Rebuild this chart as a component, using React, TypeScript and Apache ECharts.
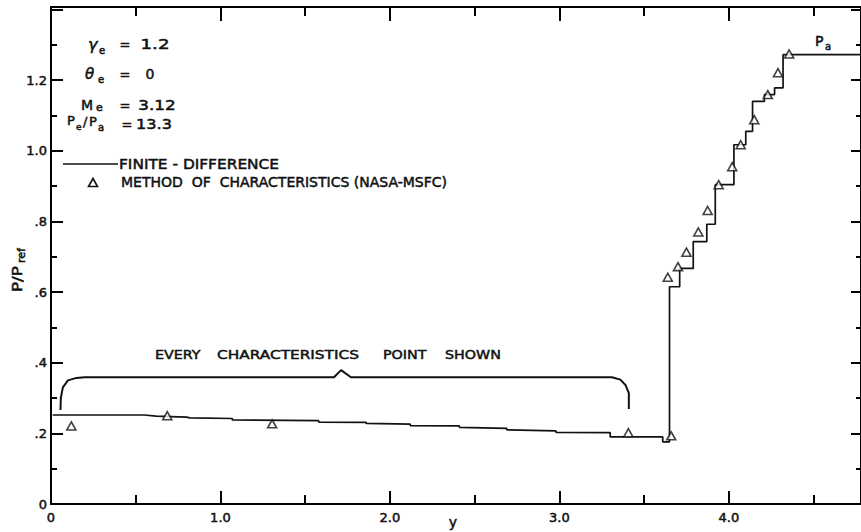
import React, { useEffect, useRef } from "react";
import * as echarts from "echarts";

// Finite-difference solution (step profile), vertices
const fdX = [0.01, 0.55, 0.62, 0.80, 0.82, 1.07, 1.07, 1.58, 1.58, 1.86, 1.86, 2.12, 2.12, 2.41, 2.41, 2.69, 2.69, 2.98, 2.98, 3.30, 3.30, 3.61, 3.61, 3.65, 3.65, 3.71, 3.71, 3.79, 3.79, 3.87, 3.87, 3.92, 3.92, 4.03, 4.03, 4.10, 4.10, 4.14, 4.14, 4.21, 4.21, 4.27, 4.27, 4.32, 4.32, 4.78];
const fdY = [0.252, 0.252, 0.249, 0.246, 0.244, 0.242, 0.238, 0.236, 0.232, 0.231, 0.228, 0.226, 0.222, 0.221, 0.217, 0.214, 0.210, 0.207, 0.203, 0.202, 0.190, 0.190, 0.176, 0.176, 0.615, 0.615, 0.667, 0.667, 0.743, 0.743, 0.792, 0.792, 0.904, 0.904, 1.017, 1.017, 1.055, 1.055, 1.140, 1.140, 1.159, 1.159, 1.178, 1.178, 1.272, 1.272];

// Method of characteristics points (NASA-MSFC)
const mocX = [0.12, 0.686, 1.305, 3.407, 3.66, 3.64, 3.70, 3.75, 3.82, 3.875, 3.94, 4.02, 4.07, 4.15, 4.23, 4.29, 4.356];
const mocY = [0.221, 0.25, 0.227, 0.202, 0.193, 0.642, 0.672, 0.713, 0.77, 0.831, 0.904, 0.955, 1.017, 1.088, 1.159, 1.221, 1.274];

// Brace over the region where every characteristics point is shown
const braceX = [0.056, 0.058, 0.07, 0.10, 0.15, 0.20, 1.67, 1.712, 1.77, 3.31, 3.36, 3.39, 3.41, 3.41];
const braceY = [0.266, 0.30, 0.33, 0.35, 0.357, 0.359, 0.359, 0.379, 0.359, 0.359, 0.352, 0.337, 0.314, 0.269];

const X_MIN = 0;
const X_MAX = 4.78;
const Y_MIN = 0;
const Y_MAX = 1.407;

const paramValues = ["1.2", "0", "3.12", "13.3"];
const legendLine = "FINITE - DIFFERENCE";
const legendMarker = "METHOD  OF  CHARACTERISTICS (NASA-MSFC)";
const braceWords = ["EVERY", "CHARACTERISTICS", "POINT", "SHOWN"];

const FONT = "DejaVu Sans";
const INK = "#111";

function t(text: string, x: number, y: number, size: number, extra: any = {}) {
  const { align = "left", italic = false, scaleX = 1, ...rest } = extra;
  return {
    type: "text",
    x,
    y,
    scaleX,
    silent: true,
    style: {
      text,
      fill: INK,
      stroke: INK,
      lineWidth: 0.5,
      fontSize: size,
      fontFamily: FONT,
      fontStyle: italic ? "italic" : "normal",
      align,
      verticalAlign: "middle",
      ...rest,
    },
  };
}

function xFmt(v: number) {
  if (v === 0) return "0";
  if (Math.abs(v - Math.round(v)) > 1e-6) return "";
  return v.toFixed(1);
}
function yFmt(v: number) {
  if (v === 0) return "0";
  if (v > 1.3) return "";
  const s = v.toFixed(1);
  return v < 1 ? s.replace(/^0/, "") : s;
}

const tickStyle = { color: "#000", width: 2 };
const labelStyle = {
  color: INK,
  fontSize: 13,
  fontFamily: FONT,
  textBorderColor: INK,
  textBorderWidth: 0.5,
};

export default function App() {
  const ref = useRef<HTMLDivElement>(null);
  useEffect(() => {
    if (!ref.current) return;
    const chart = echarts.init(ref.current, null, { renderer: "svg" });
    const fd = fdX.map((x, i) => [x, fdY[i]]);
    const moc = mocX.map((x, i) => [x, mocY[i]]);
    const brace = braceX.map((x, i) => [x, braceY[i]]);

    const baseX = (pos: string, interval: number, len: number, showLine: boolean, labels: boolean) => ({
      type: "value",
      min: X_MIN,
      max: X_MAX,
      interval,
      position: pos,
      axisLine: { show: showLine, onZero: false, lineStyle: { color: "#000", width: 2 } },
      axisTick: { show: true, inside: true, length: len, lineStyle: tickStyle },
      splitLine: { show: false },
      axisLabel: labels
        ? { show: true, formatter: xFmt, margin: 7, showMaxLabel: false, ...labelStyle }
        : { show: false },
    });
    const baseY = (pos: string, interval: number, len: number, showLine: boolean, labels: boolean) => ({
      type: "value",
      min: Y_MIN,
      max: Y_MAX,
      interval,
      position: pos,
      axisLine: { show: showLine, onZero: false, lineStyle: { color: "#000", width: 2 } },
      axisTick: { show: true, inside: true, length: len, lineStyle: tickStyle },
      splitLine: { show: false },
      axisLabel: labels
        ? { show: true, formatter: yFmt, margin: 4, showMaxLabel: false, ...labelStyle }
        : { show: false },
    });

    chart.setOption({
      animation: false,
      backgroundColor: "#fff",
      grid: { left: 51, right: 0, top: 7, bottom: 28, containLabel: false },
      xAxis: [
        baseX("bottom", 1, 13, true, true),
        baseX("bottom", 0.5, 9, false, false),
        baseX("top", 1, 14, true, false),
        baseX("top", 0.5, 9, false, false),
      ],
      yAxis: [
        baseY("left", 0.2, 12, true, true),
        baseY("left", 0.1, 6, false, false),
        baseY("right", 0.2, 10, true, false),
        baseY("right", 0.1, 5, false, false),
      ],
      series: [
        {
          name: "FINITE - DIFFERENCE",
          type: "line",
          data: fd,
          showSymbol: false,
          symbol: "none",
          lineStyle: { color: INK, width: 1.7 },
          xAxisIndex: 0,
          yAxisIndex: 0,
          z: 3,
        },
        {
          name: "brace",
          type: "line",
          data: brace,
          showSymbol: false,
          symbol: "none",
          lineStyle: { color: INK, width: 2 },
          xAxisIndex: 0,
          yAxisIndex: 0,
          z: 3,
        },
        {
          name: "METHOD OF CHARACTERISTICS (NASA-MSFC)",
          type: "scatter",
          data: moc,
          symbol: "triangle",
          symbolSize: [9, 8],
          itemStyle: { color: "#fff", borderColor: INK, borderWidth: 1.6 },
          xAxisIndex: 0,
          yAxisIndex: 0,
          z: 5,
        },
      ],
      graphic: [
        // parameter block
        t("γ", 88, 44, 16, { italic: true }),
        t("e", 99, 50, 10),
        t("θ", 85, 74, 15, { italic: true }),
        t("e", 98, 79, 10),
        t("M", 81, 105, 14),
        t("e", 96, 107, 11),
        t("P", 67, 120, 13),
        t("e", 76, 127, 9),
        t("/", 83, 121, 13),
        t("P", 89, 121, 13),
        t("a", 98, 127, 10),
        t("=", 125, 44, 13, { align: "center" }),
        t("=", 125, 74, 13, { align: "center" }),
        t("=", 125, 105, 13, { align: "center" }),
        t("=", 127, 124, 13, { align: "center" }),
        t(paramValues[0], 155, 44, 14, { align: "center", scaleX: 1.3 }),
        t(paramValues[1], 150, 74, 14, { align: "center" }),
        t(paramValues[2], 157, 105, 14, { align: "center", scaleX: 1.2 }),
        t(paramValues[3], 154, 124, 14, { align: "center", scaleX: 1.15 }),
        // legend
        { type: "line", silent: true, shape: { x1: 63, y1: 164, x2: 118, y2: 164 }, style: { stroke: INK, lineWidth: 1.7 } },
        t(legendLine, 119, 164, 14, { scaleX: 1.1 }),
        { type: "polygon", silent: true, shape: { points: [[93, 178.5], [88.5, 186.5], [97.5, 186.5]] }, style: { fill: "#fff", stroke: INK, lineWidth: 1.6 } },
        t(legendMarker, 121, 182, 14),
        // brace caption
        t(braceWords[0], 155, 354, 13, { scaleX: 1.1 }),
        t(braceWords[1], 217, 354, 13, { scaleX: 1.18 }),
        t(braceWords[2], 383, 354, 13, { scaleX: 1.1 }),
        t(braceWords[3], 445, 354, 13, { scaleX: 1.1 }),
        // ambient pressure label
        t("P", 815, 41, 14),
        t("a", 825, 46, 10),
        // axis titles
        t("y", 453, 522, 14, { align: "center" }),
        {
          type: "group",
          x: 17,
          y: 292,
          rotation: Math.PI / 2,
          silent: true,
          children: [
            t("P/P", 0, 0, 14, { scaleX: 1.2 }),
            t("ref", 29, 4, 11),
          ],
        },
      ],
    });
    return () => chart.dispose();
  }, []);
  return (
    <div
      ref={ref}
      style={{ position: "fixed", left: 0, top: 0, width: 861, height: 532 }}
    />
  );
}
